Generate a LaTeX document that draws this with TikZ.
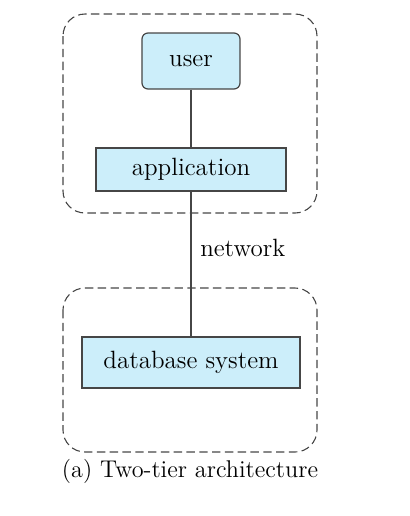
\documentclass[tikz,border=0pt]{standalone}
\usepackage{tikz}

\definecolor{boxfill}{RGB}{204,238,250}
\definecolor{linegray}{RGB}{70,70,70}

\tikzset{
    tier/.style={draw=linegray, dash pattern=on 4.2pt off 2.2pt, rounded corners=11pt, line width=0.55pt},
    compbox/.style={draw=linegray, fill=boxfill, line width=0.6pt, inner sep=0pt, font=\fontsize{12.5}{14}\selectfont},
}

\begin{document}
\begin{tikzpicture}[x=0.5pt, y=-0.5pt]
    \useasboundingbox (0,0) rectangle (409,516);

    % dashed tiers
    \draw[tier] (63,14) rectangle (317,213);
    \draw[tier] (63,288) rectangle (317,452);

    % components
    \node[compbox, rounded corners=3pt, minimum width=49pt, minimum height=28pt] (user) at (191,61) {user};
    \node[compbox, minimum width=95pt, minimum height=21.5pt] (app) at (191,169.5) {application};
    \node[compbox, minimum width=109pt, minimum height=25.5pt] (db) at (191,362.5) {database system};

    \draw[linegray, line width=0.6pt] (user) -- (app);
    \draw[linegray, line width=0.6pt] (app) -- (db) node[pos=0.39, right, xshift=1pt, font=\fontsize{12.5}{14}\selectfont, black] {network};

    % caption
    \node[font=\fontsize{12.1}{14}\selectfont] (caption) at (190,471) {(a) Two-tier architecture};
\end{tikzpicture}
\end{document}
